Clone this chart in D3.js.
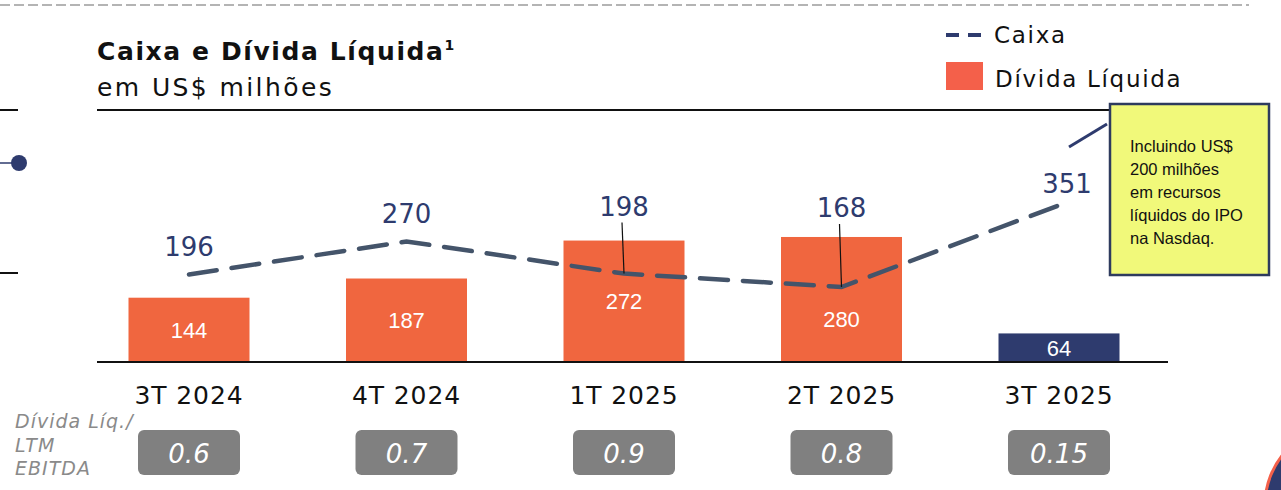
<!DOCTYPE html>
<html lang="pt">
<head>
    <meta charset="UTF-8"/>
    <title>Caixa e Dívida Líquida</title>
    <script src="https://d3js.org/d3.v7.min.js"></script>
    <style>
        body { margin: 0; background: #fff; }
        svg { display: block; }
        .mont { font-family: "DejaVu Sans", "Noto Sans", sans-serif; }
        .cal { font-family: "Liberation Sans", "Open Sans", sans-serif; }
    </style>
</head>
<body></body>
<script type="text/javascript">
    let width = 1281,
        height = 490;

    // dados
    let periodos = ["3T 2024", "4T 2024", "1T 2025", "2T 2025", "3T 2025"];
    let dividaLiquida = [144, 187, 272, 280, 64];
    let caixa = [196, 270, 198, 168, 351];
    let alavancagem = ["0.6", "0.7", "0.9", "0.8", "0.15"];
    let notaIPO = ["Incluindo US$", "200 milhões", "em recursos", "líquidos do IPO", "na Nasdaq."];

    let laranja = "#f0663f",
        azul = "#2e3b6e",
        azulLinha = "#44546a";

    let svg = d3.select("body").append("svg")
        .attr("width", width)
        .attr("height", height);

    let baseY = 362;
    let x = d3.scalePoint().domain(periodos).range([189, 1059]);
    let y = d3.scaleLinear().domain([0, 400]).range([baseY, baseY - 400 * 0.4465]);
    let barW = 121;

    // linha tracejada no topo
    svg.append("line")
        .attr("x1", 0).attr("x2", 1249).attr("y1", 5).attr("y2", 5)
        .attr("stroke", "#b4b4b4").attr("stroke-width", 2)
        .attr("stroke-dasharray", "10,4");

    // decoração à esquerda
    svg.append("line").attr("x1", 0).attr("x2", 18).attr("y1", 110).attr("y2", 110)
        .attr("stroke", "#111").attr("stroke-width", 2);
    svg.append("line").attr("x1", 0).attr("x2", 18).attr("y1", 273).attr("y2", 273)
        .attr("stroke", "#111").attr("stroke-width", 2);
    svg.append("line").attr("x1", 0).attr("x2", 14).attr("y1", 163).attr("y2", 163)
        .attr("stroke", azul).attr("stroke-width", 1.5);
    svg.append("circle").attr("cx", 19).attr("cy", 163).attr("r", 8).attr("fill", azul);

    // título
    svg.append("text").attr("class", "mont")
        .attr("x", 97).attr("y", 60)
        .attr("font-size", 25).attr("font-weight", "bold").attr("fill", "#111")
        .attr("letter-spacing", 1.6)
        .text("Caixa e Dívida Líquida")
        .append("tspan").attr("font-size", 14).attr("dy", -10).text("1");
    svg.append("text").attr("class", "mont")
        .attr("x", 97).attr("y", 96)
        .attr("font-size", 25).attr("fill", "#111")
        .attr("letter-spacing", 2.4)
        .text("em US$ milhões");

    // linha abaixo do título
    svg.append("line").attr("x1", 97).attr("x2", 1112).attr("y1", 110).attr("y2", 110)
        .attr("stroke", "#111").attr("stroke-width", 2);

    // legenda
    svg.append("line").attr("x1", 946).attr("x2", 986).attr("y1", 35).attr("y2", 35)
        .attr("stroke", azul).attr("stroke-width", 4)
        .attr("stroke-dasharray", "13,9");
    svg.append("text").attr("class", "mont").attr("x", 994).attr("y", 43)
        .attr("font-size", 23).attr("fill", "#111").attr("letter-spacing", 1.7)
        .text("Caixa");
    svg.append("rect").attr("x", 946).attr("y", 62).attr("width", 37).attr("height", 28)
        .attr("fill", "#f4604a");
    svg.append("text").attr("class", "mont").attr("x", 995).attr("y", 87)
        .attr("font-size", 23).attr("fill", "#111").attr("letter-spacing", 1.7)
        .text("Dívida Líquida");

    // barras
    svg.selectAll(".bar")
        .data(dividaLiquida)
        .enter().append("rect")
        .attr("class", "bar")
        .attr("x", (d, i) => x(periodos[i]) - barW / 2)
        .attr("y", d => y(d))
        .attr("width", barW)
        .attr("height", d => baseY - y(d))
        .attr("fill", (d, i) => i === 4 ? azul : laranja);

    // rótulos das barras (280 deslocado por causa da linha)
    svg.selectAll(".barLabel")
        .data(dividaLiquida)
        .enter().append("text")
        .attr("class", "cal")
        .attr("x", (d, i) => x(periodos[i]))
        .attr("y", (d, i) => (y(d) + baseY) / 2 + (i === 3 ? 20 : 0))
        .attr("dy", "0.36em")
        .attr("text-anchor", "middle")
        .attr("font-size", 22)
        .attr("fill", "#fff")
        .text(d => d);

    // eixo
    svg.append("line").attr("x1", 97).attr("x2", 1168).attr("y1", baseY).attr("y2", baseY)
        .attr("stroke", "#111").attr("stroke-width", 2);

    // linha de caixa
    let line = d3.line()
        .x((d, i) => x(periodos[i]))
        .y(d => y(d));
    svg.append("path")
        .attr("d", line(caixa))
        .attr("fill", "none")
        .attr("stroke", azulLinha)
        .attr("stroke-width", 4.5)
        .attr("stroke-linecap", "round")
        .attr("stroke-dasharray", "28,15");

    // rótulos de caixa
    let labelDy = [-28, -28, -67, -79, -22];
    let labelDx = [0, 0, 0, 0, 8];
    svg.selectAll(".cashLabel")
        .data(caixa)
        .enter().append("text")
        .attr("class", "mont")
        .attr("x", (d, i) => x(periodos[i]) + labelDx[i])
        .attr("y", (d, i) => y(d) + labelDy[i])
        .attr("dy", "0.36em")
        .attr("text-anchor", "middle")
        .attr("font-size", 26)
        .attr("fill", azul)
        .text(d => d);

    // linhas guia de 198 e 168
    [2, 3].forEach(i => {
        svg.append("line")
            .attr("x1", x(periodos[i]) - 2).attr("x2", x(periodos[i]))
            .attr("y1", y(caixa[i]) + labelDy[i] + 16).attr("y2", y(caixa[i]))
            .attr("stroke", "#111").attr("stroke-width", 1.2);
    });

    // rótulos do eixo x
    svg.selectAll(".xLabel")
        .data(periodos)
        .enter().append("text")
        .attr("class", "mont")
        .attr("x", d => x(d))
        .attr("y", 404)
        .attr("text-anchor", "middle")
        .attr("font-size", 25)
        .attr("letter-spacing", 0.9)
        .attr("fill", "#111")
        .text(d => d);

    // caixas de alavancagem
    let g = svg.selectAll(".lev")
        .data(alavancagem)
        .enter().append("g")
        .attr("transform", (d, i) => "translate(" + x(periodos[i]) + ",0)");
    g.append("rect")
        .attr("x", -51).attr("y", 430).attr("width", 102).attr("height", 45)
        .attr("rx", 6).attr("fill", "#808080");
    g.append("text")
        .attr("class", "mont")
        .attr("y", 463)
        .attr("text-anchor", "middle")
        .attr("font-size", 26)
        .attr("font-style", "italic")
        .attr("fill", "#fff")
        .text(d => d);

    // rótulo lateral
    let lado = svg.append("text").attr("class", "mont")
        .attr("font-size", 19).attr("font-style", "italic").attr("fill", "#8a8a8a")
        .attr("letter-spacing", 1);
    ["Dívida Líq./", "LTM", "EBITDA"].forEach((t, i) => {
        lado.append("tspan").attr("x", 15).attr("y", 428 + i * 23.5).text(t);
    });

    // linha guia para a nota
    svg.append("line").attr("x1", 1069).attr("y1", 147).attr("x2", 1107).attr("y2", 124)
        .attr("stroke", azul).attr("stroke-width", 3);

    // nota IPO
    svg.append("rect")
        .attr("x", 1110).attr("y", 104).attr("width", 159).attr("height", 171)
        .attr("fill", "#f1f97a").attr("stroke", "#2e3b5e").attr("stroke-width", 2.5);
    let nota = svg.append("text").attr("class", "cal")
        .attr("font-size", 16.5).attr("fill", "#111");
    notaIPO.forEach((t, i) => {
        nota.append("tspan").attr("x", 1130).attr("y", 152 + i * 23).text(t);
    });

    // decoração no canto inferior direito
    svg.append("circle").attr("cx", 1345).attr("cy", 505).attr("r", 80)
        .attr("fill", azul).attr("stroke", "#f4604a").attr("stroke-width", 3);
</script>
</html>
